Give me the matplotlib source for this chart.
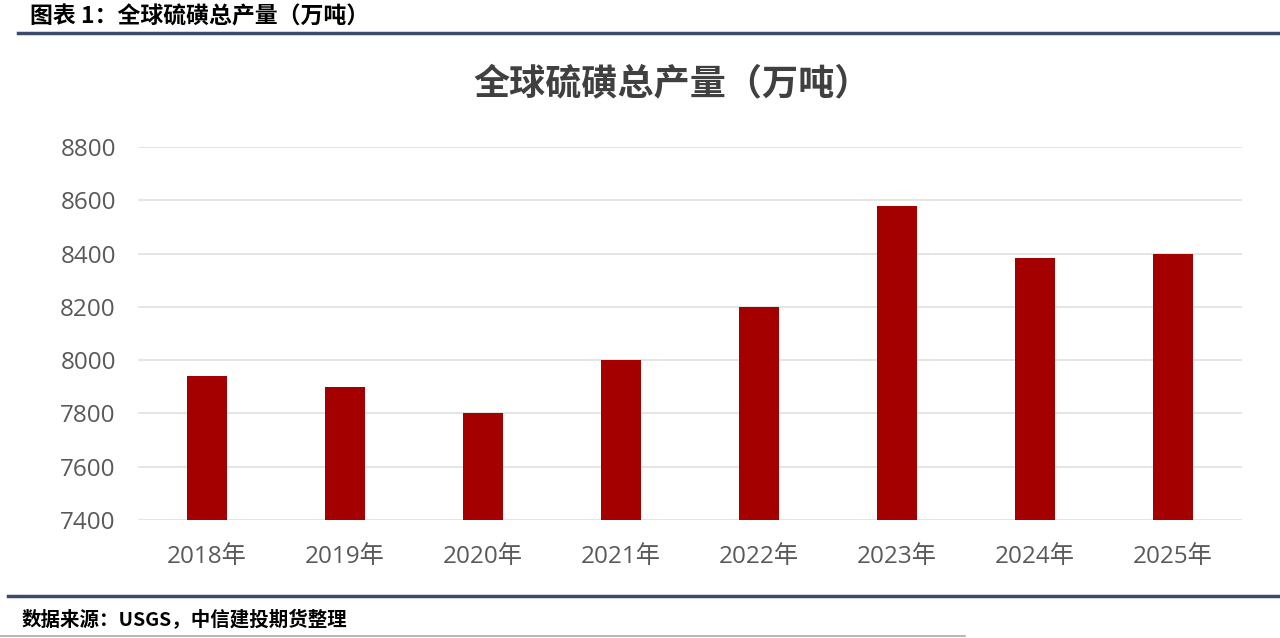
import matplotlib.pyplot as plt

plt.rcParams['font.family'] = ['Noto Sans CJK SC', 'DejaVu Sans']

years = ["2018年", "2019年", "2020年", "2021年", "2022年", "2023年", "2024年", "2025年"]
output = [7940, 7900, 7800, 8000, 8200, 8580, 8385, 8400]
yticks = [7400, 7600, 7800, 8000, 8200, 8400, 8600, 8800]

fig = plt.figure(figsize=(12.8, 6.38), dpi=100)
ax = fig.add_axes([138 / 1280, 1 - 520 / 638, 1104 / 1280, 373 / 638])

ax.bar(range(len(years)), output, width=0.29, color="#A50000", zorder=3)
ax.set_xlim(-0.5, len(years) - 0.5)
ax.set_ylim(7400, 8800)
ax.set_yticks(yticks)
ax.set_xticks(range(len(years)))
ax.set_xticklabels(years)
ax.grid(axis="y", color="#e3e3e3", linewidth=1.3, zorder=0)
ax.tick_params(length=0, labelsize=17.5, colors="#595959")
ax.tick_params(axis="x", pad=18)
ax.tick_params(axis="y", pad=16)
for lab in ax.get_xticklabels() + ax.get_yticklabels():
    lab.set_family(['Open Sans', 'Noto Sans CJK SC'])
for s in ax.spines.values():
    s.set_visible(False)

# chart title
fig.text(672 / 1280, 1 - 84 / 638, "全球硫磺总产量（万吨）", ha="center", va="center",
         fontsize=26, fontweight="bold", color="#404040")

# report header / footer
fig.text(30 / 1280, 1 - 17 / 638, "图表 1：全球硫磺总产量（万吨）", ha="left", va="center",
         fontsize=16.5, fontweight="bold", color="black")
fig.add_artist(plt.Line2D([18 / 1280, 1], [1 - 33 / 638] * 2, color="#3c4b6b", linewidth=2.5))
fig.add_artist(plt.Line2D([8 / 1280, 1], [1 - 596 / 638] * 2, color="#3c4b6b", linewidth=2.5))
fig.text(22 / 1280, 1 - 620 / 638, "数据来源：USGS，中信建投期货整理", ha="left", va="center",
         fontsize=14, fontweight="bold", style="italic", color="black")
fig.add_artist(plt.Line2D([0, 965 / 1280], [1 - 636 / 638] * 2, color="#aaaaaa", linewidth=1.2))

fig.savefig("out.png", dpi=100)
